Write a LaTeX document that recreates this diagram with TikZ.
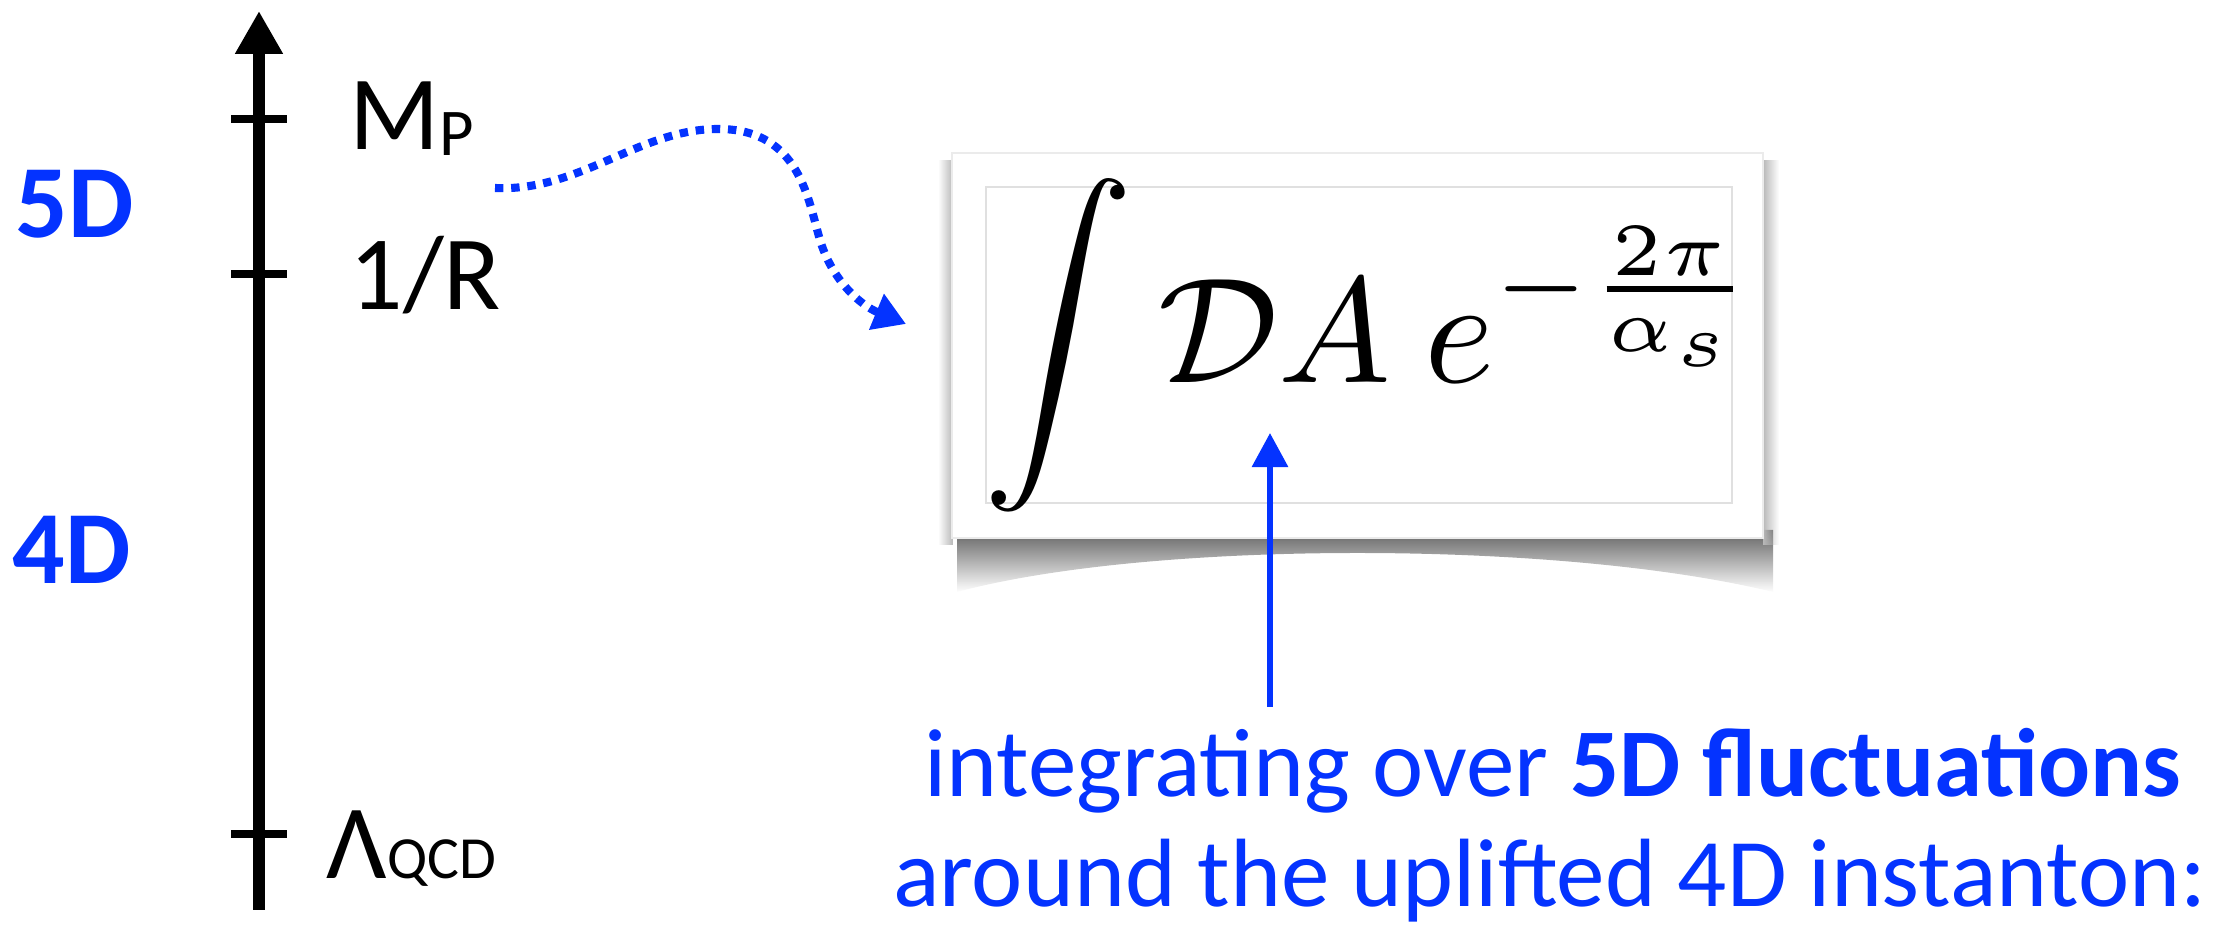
\documentclass[tikz,border=0pt]{standalone}
\usepackage{fontspec}
\usepackage{graphicx}
\newfontfamily\gill{Carlito}
\usetikzlibrary{arrows.meta,fadings}
\definecolor{kblue}{RGB}{4,51,255}
\begin{document}
\begin{tikzpicture}[x=0.01cm,y=-0.01cm,
  lbl/.style={anchor=base west, inner sep=0, font=\gill\fontsize{30}{30}\selectfont},
  dimlbl/.style={anchor=base west, inner sep=0, text=kblue, font=\gill\bfseries\fontsize{29.5}{30}\selectfont},
  tickmark/.style={line width=2pt},
  axisline/.style={line width=3.13pt, -{Triangle[length=12.2pt,width=12.8pt]}},
  dotarrow/.style={kblue, line width=2.3pt, dash pattern=on 2.4pt off 2.2pt, -{Triangle[length=9.1pt,width=10.5pt]}},
  bluearrow/.style={kblue, line width=1.7pt, -{Triangle[length=9.7pt,width=10pt]}},
  caption/.style={anchor=base, inner sep=0, text=kblue, font=\gill\fontsize{27.6}{31}\selectfont}]
\useasboundingbox (0,0) rectangle (2217,925);

% energy axis
\coordinate (axbot) at (259,910);
\coordinate (axtop) at (259,11);
\draw[axisline] (axbot) -- (axtop);
\foreach \yy in {119,274,834} \draw[tickmark] (231,\yy) -- (287,\yy);

\node[lbl] (mp) at (349,150) {M\raisebox{-1.7pt}{\fontsize{19}{19}\selectfont P}};
\node[lbl] (ir) at (349,310) {1/R};
\node[lbl] (lqcd) at (326,879) {Λ{\fontsize{17}{17}\selectfont QCD}};

\node[dimlbl] (d5) at (15,238) {5D};
\node[dimlbl] (d4) at (12,584) {4D};

% dotted connector
\coordinate (dstart) at (495,188);
\coordinate (dend) at (906,324);
\draw[dotarrow] (dstart) .. controls (580,192) and (640,128) .. (720,129)
  .. controls (800,130) and (808,200) .. (820,240)
  .. controls (832,280) and (860,305) .. (dend);

% panel with curled shadow
\fill[black!62, path fading=south] (957,530) -- (957,592) .. controls (1150,540) and (1560,540) .. (1773,592) -- (1773,530) -- cycle;
\fill[black!28, path fading=west] (938,160) rectangle (953,545);
\fill[black!28, path fading=east] (1763,160) rectangle (1779,545);
\node[fill=white, draw=black!8, line width=0.5pt, minimum width=8.11cm, minimum height=3.85cm, inner sep=0] (panel) at (1357.5,345.5) {};
\node[draw=black!12, line width=0.6pt, minimum width=7.46cm, minimum height=3.16cm, inner sep=0] (frame) at (1359,345) {};
\node[anchor=base west, inner sep=0] (formula) at (983,383)
  {\scalebox{4.27}{$\displaystyle\int\mathcal{D}A\mskip4mu e^{-\frac{2\pi}{\alpha_s}}$}};

% caption and arrow
\node[caption] (txt1) at (1553,797) {integrating over \textbf{5D fluctuations}};
\node[caption] (txt2) at (1550,907) {around the uplifted 4D instanton:};
\coordinate (abot) at (1270,707);
\coordinate (atip) at (1270,433);
\draw[bluearrow] (abot) -- (atip);
\end{tikzpicture}
\end{document}
